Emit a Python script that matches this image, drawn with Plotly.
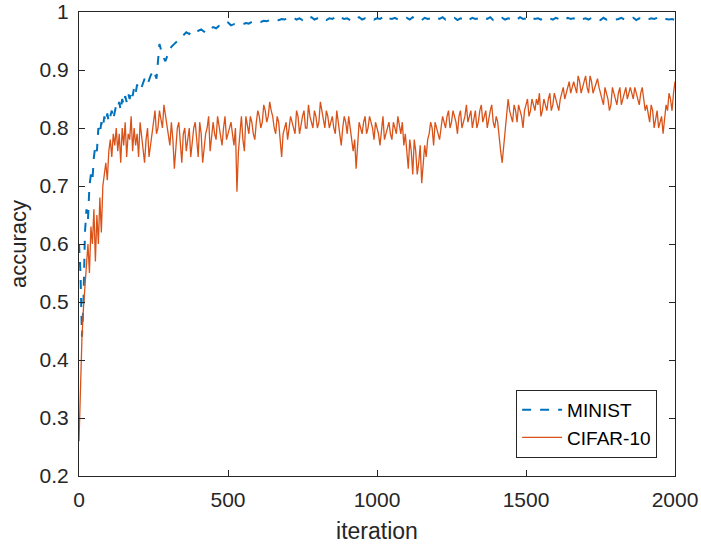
import plotly.graph_objects as go

# iterations: fine sampling early, coarser later
iters_early = list(range(0, 201, 5))
iters_late = list(range(210, 2001, 10))
iters_mid = list(range(205, 2000, 10))

minist_early = [0.60, 0.55, 0.44, 0.50, 0.62, 0.66, 0.64, 0.70, 0.72, 0.71,
                0.75, 0.77, 0.76, 0.80, 0.79, 0.81, 0.80, 0.82, 0.81, 0.825,
                0.81, 0.82, 0.83, 0.815, 0.83, 0.84, 0.835, 0.845, 0.83, 0.85,
                0.84, 0.855, 0.845, 0.86, 0.85, 0.865, 0.855, 0.87, 0.86, 0.875,
                0.865]
minist_late = [0.87, 0.885, 0.875, 0.89, 0.90, 0.885, 0.945, 0.925, 0.915, 0.93,
               0.94, 0.945, 0.95, 0.955, 0.96, 0.965, 0.962, 0.968, 0.965, 0.968,
               0.97, 0.966, 0.972, 0.97, 0.974, 0.972, 0.976, 0.975, 0.978, 0.982,
               0.977, 0.979, 0.978, 0.98, 0.979, 0.981, 0.98, 0.983, 0.982, 0.984,
               0.983, 0.985, 0.984, 0.986, 0.985, 0.987, 0.986, 0.988, 0.987, 0.989,
               0.988, 0.990, 0.987, 0.989, 0.986, 0.990, 0.988, 0.991, 0.987, 0.989,
               0.988, 0.990, 0.986, 0.989, 0.988, 0.991, 0.987, 0.990, 0.988, 0.989,
               0.986, 0.990, 0.988, 0.991, 0.987, 0.989, 0.988, 0.990, 0.987, 0.989,
               0.988, 0.991, 0.986, 0.989, 0.988, 0.990, 0.987, 0.989, 0.988, 0.990,
               0.987, 0.991, 0.988, 0.989, 0.986, 0.990, 0.988, 0.989, 0.987, 0.990,
               0.988, 0.991, 0.987, 0.989, 0.988, 0.990, 0.986, 0.989, 0.988, 0.991,
               0.987, 0.990, 0.988, 0.989, 0.987, 0.990, 0.988, 0.991, 0.986, 0.989,
               0.988, 0.990, 0.987, 0.989, 0.988, 0.990, 0.987, 0.991, 0.988, 0.989,
               0.986, 0.990, 0.988, 0.989, 0.987, 0.990, 0.988, 0.989, 0.987, 0.990,
               0.988, 0.989, 0.986, 0.990, 0.988, 0.989, 0.987, 0.990, 0.988, 0.989,
               0.987, 0.990, 0.988, 0.989, 0.986, 0.990, 0.987, 0.989, 0.988, 0.987,
               0.988, 0.990, 0.987, 0.989, 0.988, 0.990, 0.986, 0.989, 0.988, 0.990,
               0.987, 0.989, 0.988, 0.990, 0.987, 0.989, 0.988, 0.987, 0.988, 0.986]

cifar_early = [0.26, 0.38, 0.44, 0.49, 0.53, 0.56, 0.60, 0.55, 0.63, 0.60,
               0.66, 0.57, 0.65, 0.60, 0.68, 0.62, 0.70, 0.72, 0.74, 0.71,
               0.76, 0.78, 0.75, 0.79, 0.77, 0.80, 0.76, 0.79, 0.74, 0.80,
               0.77, 0.81, 0.75, 0.79, 0.78, 0.82, 0.76, 0.80, 0.77, 0.79,
               0.75]
# CIFAR-10 readings at iterations 210, 220, ..., 2000
cifar_late = [0.79, 0.74, 0.80, 0.77, 0.81, 0.79, 0.83, 0.80, 0.82, 0.79,
              0.81, 0.73, 0.80, 0.77, 0.79, 0.76, 0.80, 0.78, 0.81, 0.75,
              0.79, 0.77, 0.80, 0.76, 0.81, 0.78, 0.80, 0.77, 0.82, 0.79,
              0.81, 0.77, 0.69, 0.80, 0.78, 0.82, 0.79, 0.81, 0.78, 0.83,
              0.80, 0.84, 0.81, 0.845, 0.82, 0.79, 0.81, 0.75, 0.80, 0.78,
              0.82, 0.80, 0.83, 0.79, 0.82, 0.80, 0.84, 0.81, 0.83, 0.80,
              0.845, 0.81, 0.83, 0.80, 0.82, 0.79, 0.81, 0.77, 0.82, 0.79,
              0.80, 0.76, 0.73, 0.81, 0.79, 0.82, 0.80, 0.81, 0.78, 0.80,
              0.77, 0.82, 0.79, 0.81, 0.78, 0.80, 0.82, 0.79, 0.77, 0.75,
              0.78, 0.72, 0.76, 0.74, 0.705, 0.77, 0.78, 0.81, 0.77, 0.80,
              0.78, 0.82, 0.80, 0.83, 0.81, 0.82, 0.79, 0.83, 0.81, 0.84,
              0.82, 0.80, 0.83, 0.81, 0.84, 0.82, 0.80, 0.83, 0.81, 0.82,
              0.78, 0.74, 0.79, 0.85, 0.82, 0.84, 0.81, 0.83, 0.80, 0.84,
              0.82, 0.85, 0.83, 0.84, 0.82, 0.85, 0.83, 0.86, 0.84, 0.85,
              0.83, 0.86, 0.85, 0.87, 0.86, 0.88, 0.86, 0.88, 0.87, 0.89,
              0.86, 0.88, 0.87, 0.885, 0.86, 0.84, 0.86, 0.83, 0.87, 0.85,
              0.86, 0.84, 0.865, 0.85, 0.87, 0.85, 0.86, 0.84, 0.87, 0.83,
              0.82, 0.84, 0.80, 0.83, 0.81, 0.79, 0.84, 0.86, 0.83, 0.88]
# CIFAR-10 readings at iterations 205, 215, ..., 1995
cifar_mid = [0.81, 0.77, 0.78, 0.75, 0.79, 0.83, 0.80, 0.81, 0.84, 0.80,
             0.77, 0.78, 0.77, 0.81, 0.74, 0.80, 0.78, 0.75, 0.80, 0.78,
             0.81, 0.74, 0.79, 0.82, 0.78, 0.79, 0.82, 0.79, 0.80, 0.78,
             0.80, 0.79, 0.80, 0.76, 0.82, 0.76, 0.80, 0.82, 0.79, 0.81,
             0.82, 0.81, 0.83, 0.82, 0.83, 0.80, 0.82, 0.78, 0.79, 0.81,
             0.80, 0.81, 0.79, 0.82, 0.81, 0.83, 0.80, 0.82, 0.80, 0.82,
             0.81, 0.83, 0.80, 0.82, 0.81, 0.80, 0.83, 0.79, 0.80, 0.81,
             0.82, 0.79, 0.78, 0.77, 0.80, 0.81, 0.79, 0.82, 0.80, 0.81,
             0.79, 0.80, 0.78, 0.80, 0.79, 0.81, 0.79, 0.80, 0.81, 0.79,
             0.73, 0.76, 0.78, 0.72, 0.77, 0.74, 0.75, 0.79, 0.80, 0.81,
             0.79, 0.80, 0.81, 0.82, 0.80, 0.83, 0.81, 0.82, 0.80, 0.82,
             0.81, 0.83, 0.82, 0.80, 0.83, 0.81, 0.83, 0.82, 0.84, 0.80,
             0.81, 0.76, 0.77, 0.82, 0.83, 0.81, 0.83, 0.84, 0.82, 0.83,
             0.85, 0.83, 0.84, 0.85, 0.86, 0.83, 0.84, 0.85, 0.83, 0.86,
             0.84, 0.85, 0.87, 0.86, 0.88, 0.87, 0.87, 0.89, 0.86, 0.88,
             0.87, 0.89, 0.86, 0.88, 0.87, 0.85, 0.87, 0.85, 0.84, 0.86,
             0.84, 0.87, 0.85, 0.87, 0.86, 0.86, 0.87, 0.85, 0.86, 0.85,
             0.84, 0.81, 0.83, 0.82, 0.80, 0.82, 0.81, 0.83, 0.85, 0.86]

minist_x = iters_early + iters_late
minist = minist_early + minist_late

cifar_x = list(iters_early)
cifar = list(cifar_early)
for xm, vm, xl, vl in zip(iters_mid, cifar_mid, iters_late, cifar_late):
    cifar_x += [xm, xl]
    cifar += [vm, vl]

x_ticks = [0, 500, 1000, 1500, 2000]
y_ticks = [0.2, 0.3, 0.4, 0.5, 0.6, 0.7, 0.8, 0.9, 1.0]
y_tick_labels = ["0.2", "0.3", "0.4", "0.5", "0.6", "0.7", "0.8", "0.9", "1"]

BLUE = "#0072BD"
ORANGE = "#D95319"
AX = "#262626"
FONT = "Liberation Sans, Arial, sans-serif"

fig = go.Figure()
fig.add_trace(go.Scatter(x=minist_x, y=minist, mode="lines", name="MINIST",
                         line=dict(color=BLUE, width=2, dash="dash")))
fig.add_trace(go.Scatter(x=cifar_x, y=cifar, mode="lines", name="CIFAR-10",
                         line=dict(color=ORANGE, width=1.3)))

axis_common = dict(showline=True, linecolor=AX, linewidth=1, mirror="ticks",
                   ticks="inside", ticklen=6, tickcolor=AX, showgrid=False,
                   zeroline=False, automargin=False, ticklabeloverflow="allow",
                   tickfont=dict(family=FONT, size=21, color=AX))

fig.update_layout(
    width=701, height=546,
    margin=dict(l=79, r=26, t=12, b=70),
    paper_bgcolor="white", plot_bgcolor="white",
    font=dict(family=FONT, color=AX),
    xaxis=dict(range=[0, 2000], tickvals=x_ticks, ticklabelstandoff=5,
               title=dict(text="iteration", font=dict(family=FONT, size=23, color=AX), standoff=12),
               **axis_common),
    yaxis=dict(range=[0.2, 1.0], tickvals=y_ticks, ticktext=y_tick_labels,
               ticklabelstandoff=5,
               title=dict(text="accuracy", font=dict(family=FONT, size=22, color=AX), standoff=6),
               **axis_common),
    legend=dict(x=0.97, y=0.039, xanchor="right", yanchor="bottom",
                bgcolor="white", bordercolor=AX, borderwidth=1,
                font=dict(family=FONT, size=19, color="black"),
                tracegroupgap=0, itemwidth=40),
    showlegend=True,
)

# remove the default 8 px page margin so the figure fills the window exactly
fig.write_html("out.html", config={"displayModeBar": False},
               post_script="document.body.style.margin='0';document.body.style.overflow='hidden';")
